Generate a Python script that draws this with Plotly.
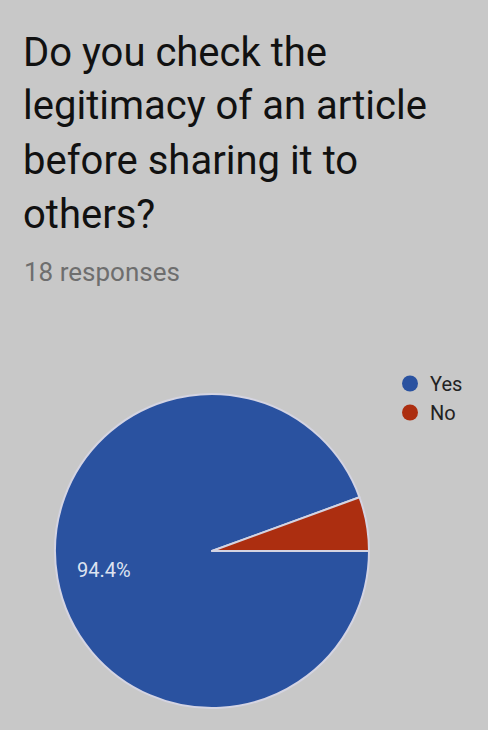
import math
import plotly.graph_objects as go

title_lines = ["Do you check the", "legitimacy of an article", "before sharing it to", "others?"]
subtitle = "18 responses"
labels = ["Yes", "No"]
values = [17, 1]
colors = ["#2a52a0", "#ac2e10"]

W, H = 488, 730
fig = go.Figure()

cx, cy, R = 212, 551, 157
fig.add_trace(go.Pie(
    labels=labels, values=values, sort=False, direction="clockwise", rotation=90,
    marker=dict(colors=colors, line=dict(color="#d4d4e2", width=2)),
    textinfo="none",
    showlegend=False, hoverinfo="label+percent",
    domain=dict(x=[(cx - R) / W, (cx + R) / W], y=[1 - (cy + R) / H, 1 - (cy - R) / H]),
))

# percentage label for the largest slice, placed at mid-angle of the slice
total = sum(values)
start = 0.0  # degrees clockwise from 3 o'clock
for lab, v in zip(labels, values):
    frac = v / total
    span = 360 * frac
    if frac > 0.5:
        mid = math.radians(start + span / 2)
        rr = 0.7 * R
        px = cx + rr * math.cos(mid)
        py = cy + rr * math.sin(mid)
        fig.add_annotation(text=f"{frac * 100:.1f}%", x=px / W, y=1 - py / H,
                           xref="paper", yref="paper", showarrow=False,
                           xanchor="center", yanchor="middle",
                           font=dict(family="Roboto", size=20, color="#dde3f0"))
    start += span

for lab, col in zip(labels, colors):
    fig.add_trace(go.Scatter(x=[None], y=[None], mode="markers", name=lab,
                             marker=dict(color=col, size=20, symbol="circle")))

ys = [52, 106, 160, 214]
for t, y in zip(title_lines, ys):
    fig.add_annotation(text=t, x=21 / W, y=1 - y / H, xref="paper", yref="paper",
                       xanchor="left", yanchor="middle", showarrow=False,
                       font=dict(family="Roboto", size=40, color="#111111"))
fig.add_annotation(text=subtitle, x=22 / W, y=1 - 272 / H, xref="paper", yref="paper",
                   xanchor="left", yanchor="middle", showarrow=False,
                   font=dict(family="Roboto", size=26, color="#6e6e6e"))

fig.update_layout(
    width=W, height=H, margin=dict(l=0, r=0, t=0, b=0),
    paper_bgcolor="#c8c8c8", plot_bgcolor="#c8c8c8",
    xaxis=dict(visible=False), yaxis=dict(visible=False),
    legend=dict(x=390 / W, y=1 - 364 / H, xanchor="left", yanchor="top",
                font=dict(family="Roboto", size=20, color="#222222"),
                bgcolor="rgba(0,0,0,0)"),
)
fig.write_html("out.html")
